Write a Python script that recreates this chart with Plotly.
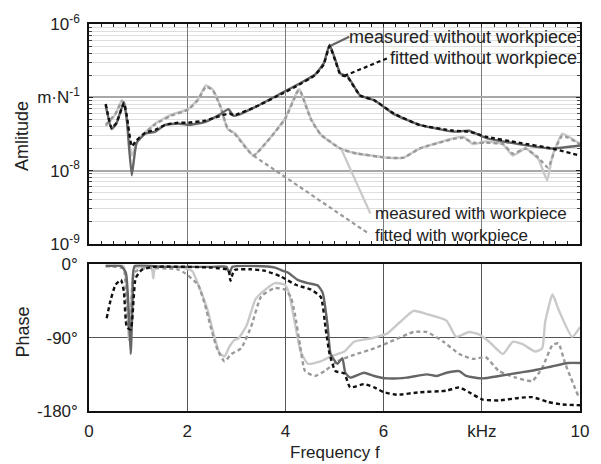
import numpy as np
import plotly.graph_objects as go

# ---------------- data ----------------
# Amplitude, measured without workpiece
f_amp_mwo = [0.34, 0.46, 0.56, 0.71, 0.77, 0.87, 0.97, 1.15, 1.35, 1.55, 1.81, 2.02, 2.36, 2.68,
             2.84, 2.94, 3.04, 3.39, 3.91, 4.25, 4.60, 4.78, 4.90, 5.02, 5.12, 5.26, 5.52, 5.81,
             6.21, 6.73, 7.42, 7.74, 8.08, 8.75, 9.44, 10.0]
amp_mwo = [7.8e-8, 3.7e-8, 4.4e-8, 8.6e-8, 4.9e-8, 8.6e-9, 2.4e-8, 3.2e-8, 3.4e-8, 4.2e-8, 4.4e-8,
           4.2e-8, 4.6e-8, 5.9e-8, 6.9e-8, 5.6e-8, 5.75e-8, 7.4e-8, 1.13e-7, 1.49e-7, 2.03e-7,
           2.9e-7, 5.2e-7, 3.2e-7, 2.1e-7, 1.96e-7, 1.06e-7, 9.1e-8, 5.9e-8, 4.2e-8, 3.4e-8,
           3.5e-8, 2.8e-8, 2.3e-8, 2.0e-8, 2.2e-8]

# Amplitude, fitted without workpiece
f_amp_fwo = [0.34, 0.46, 0.56, 0.71, 0.77, 0.87, 0.97, 1.15, 1.35, 1.55, 1.81, 2.02, 2.36, 2.68,
             2.86, 2.96, 3.39, 3.91, 4.25, 4.60, 4.78, 4.90, 5.02, 5.12, 5.26, 5.52, 5.81, 6.21,
             6.73, 7.42, 7.74, 8.08, 8.75, 9.44, 10.0]
amp_fwo = [8.1e-8, 3.8e-8, 4.5e-8, 8.3e-8, 5.5e-8, 2.15e-8, 2.6e-8, 3.3e-8, 3.6e-8, 4.2e-8, 4.5e-8,
           4.5e-8, 4.8e-8, 5.6e-8, 6.0e-8, 5.7e-8, 7.4e-8, 1.1e-7, 1.45e-7, 2.0e-7, 2.8e-7,
           5.0e-7, 3.1e-7, 2.03e-7, 1.9e-7, 1.06e-7, 9.1e-8, 6.0e-8, 4.2e-8, 3.5e-8, 3.4e-8,
           2.9e-8, 2.4e-8, 2.0e-8, 1.6e-8]

# Amplitude, measured with workpiece
f_amp_mw = [0.34, 0.54, 0.67, 0.73, 0.87, 1.01, 1.35, 1.67, 2.02, 2.22, 2.38, 2.52, 2.68, 2.82,
            2.98, 3.35, 3.65, 3.99, 4.25, 4.29, 4.52, 4.72, 5.12, 5.40, 6.07, 6.41, 6.73, 7.42,
            7.62, 7.82, 8.08, 8.43, 8.63, 8.89, 9.15, 9.33, 9.44, 9.64, 10.0]
amp_mw = [4.0e-8, 5.9e-8, 9.1e-8, 8.1e-8, 1.6e-8, 2.7e-8, 4.4e-8, 5.75e-8, 6.9e-8, 9.4e-8, 1.45e-7,
          1.28e-7, 7.4e-8, 3.7e-8, 3.2e-8, 1.6e-8, 2.6e-8, 5.1e-8, 1.24e-7, 1.28e-7, 5.1e-8,
          3.1e-8, 2.0e-8, 1.74e-8, 1.5e-8, 1.5e-8, 2.0e-8, 2.75e-8, 2.9e-8, 2.3e-8, 2.5e-8,
          2.3e-8, 1.6e-8, 2.0e-8, 1.45e-8, 7.4e-9, 1.6e-8, 3.2e-8, 2.3e-8]

# Amplitude, fitted with workpiece
f_amp_fw = [0.34, 0.54, 0.67, 0.73, 0.87, 1.01, 1.35, 1.67, 2.02, 2.22, 2.38, 2.52, 2.68, 2.82,
            2.98, 3.35, 3.65, 3.99, 4.25, 4.29, 4.52, 4.72, 5.12, 5.40, 6.07, 6.41, 6.73, 7.42,
            7.62, 7.82, 8.08, 8.43, 8.63, 8.89, 9.15, 9.35, 9.50, 9.64, 10.0]
amp_fw = [4.2e-8, 6.0e-8, 8.8e-8, 8.0e-8, 2.15e-8, 2.7e-8, 4.3e-8, 5.6e-8, 6.8e-8, 9.2e-8, 1.4e-7,
          1.25e-7, 7.4e-8, 3.8e-8, 3.1e-8, 1.6e-8, 2.6e-8, 5.0e-8, 1.2e-7, 1.25e-7, 5.0e-8,
          3.1e-8, 2.0e-8, 1.74e-8, 1.5e-8, 1.5e-8, 2.0e-8, 2.7e-8, 2.8e-8, 2.4e-8, 2.4e-8,
          2.3e-8, 1.7e-8, 2.0e-8, 1.5e-8, 1.1e-8, 2.0e-8, 3.0e-8, 2.3e-8]

# Phase (degrees), measured without workpiece
f_ph_mwo = [0.34, 0.65, 0.75, 0.81, 0.85, 0.89, 0.93, 1.5, 2.5, 2.8, 2.86, 2.92, 3.4, 3.79, 3.95,
            4.05, 4.25, 4.46, 4.66, 4.76, 4.86, 4.92, 5.06, 5.16, 5.22, 5.32, 5.60, 5.81, 6.07,
            6.47, 6.88, 7.08, 7.28, 7.54, 7.68, 8.02, 8.35, 8.75, 9.15, 9.44, 9.76, 10.0]
ph_mwo = [-2, -2, -10, -60, -110, -40, -2, -3, -3, -3, -11, -3, -2, -4, -8, -10, -19, -23, -26,
          -35, -75, -110, -122, -115, -133, -139, -133, -137, -140, -139, -135, -137, -133, -131,
          -137, -140, -137, -133, -129, -125, -121, -121]

# Phase, fitted without workpiece
f_ph_fwo = [0.36, 0.44, 0.54, 0.65, 0.71, 0.77, 0.85, 0.95, 1.07, 1.3, 2.5, 2.84, 2.88, 2.96, 3.3,
            3.59, 3.91, 4.21, 4.31, 4.52, 4.72, 4.82, 4.90, 5.02, 5.20, 5.32, 5.60, 5.81, 6.01,
            6.27, 6.73, 7.28, 7.54, 7.74, 8.02, 8.35, 8.75, 9.03, 9.35, 9.64, 10.0]
ph_fwo = [-66, -44, -25, -19, -33, -77, -80, -17, -7, -3, -4, -7, -20, -7, -6, -8, -15, -25, -27,
          -31, -40, -79, -110, -131, -134, -151, -147, -151, -157, -160, -157, -155, -151, -157,
          -166, -167, -164, -163, -169, -172, -173]

# Phase, measured with workpiece
f_ph_mw = [0.34, 0.70, 0.77, 0.81, 0.87, 0.92, 1.2, 1.28, 1.31, 1.35, 1.9, 2.1, 2.16, 2.28, 2.42,
           2.52, 2.66, 2.76, 2.86, 2.96, 3.04, 3.21, 3.39, 3.59, 3.79, 3.99, 4.08, 4.19, 4.31,
           4.46, 4.72, 4.92, 5.20, 5.40, 5.73, 6.07, 6.33, 6.61, 6.88, 7.28, 7.48, 7.74, 7.94,
           8.15, 8.43, 8.63, 8.83, 9.09, 9.23, 9.29, 9.44, 9.56, 9.84, 10.0]
ph_mw = [0, -2, -30, -93, -40, -5, -3, -5, -17, -4, -4, -8, -15, -33, -57, -81, -109, -113, -101,
         -93, -91, -75, -43, -31, -23, -25, -37, -71, -107, -122, -119, -113, -107, -95, -91, -85,
         -71, -57, -61, -69, -89, -83, -86, -95, -110, -95, -98, -107, -103, -71, -37, -55, -89,
         -77]

# Phase, fitted with workpiece
f_ph_fw = [0.34, 0.70, 0.75, 0.79, 0.85, 0.92, 1.1, 1.8, 1.96, 2.22, 2.36, 2.48, 2.62, 2.76, 2.90,
           3.10, 3.31, 3.51, 3.79, 3.99, 4.11, 4.19, 4.30, 4.40, 4.60, 4.80, 5.06, 5.40, 5.81,
           6.21, 6.61, 6.88, 7.22, 7.54, 7.82, 8.08, 8.35, 8.69, 9.03, 9.23, 9.44, 9.56, 9.70,
           9.96]
ph_fw = [-2, -5, -30, -77, -60, -10, -5, -6, -11, -25, -49, -77, -105, -119, -110, -103, -75, -39,
         -29, -31, -40, -60, -100, -131, -137, -131, -119, -111, -103, -93, -83, -83, -95, -110,
         -116, -114, -131, -139, -143, -127, -99, -97, -122, -161]

amp_ticks = [1e-9, 1e-8, 1e-7, 1e-6]
amp_ticktext = ["10<sup>-9</sup>", "10<sup>-8</sup>", "m·N<sup>-1</sup>", "10<sup>-6</sup>"]
freq_ticks = [0, 2, 4, 6, 8, 10]
freq_ticktext = ["0", "2", "4", "6", "kHz", "10"]
phase_ticks = [0, -90, -180]
phase_ticktext = ["0°", "-90°", "-180°"]

labels_without = ["measured without workpiece", "fitted without workpiece"]
labels_with = ["measured with workpiece", "fitted with workpiece"]

# ---------------- styles ----------------
C_MWO = "#666666"
C_FWO = "#111111"
C_MW = "#c9c9c9"
C_FW = "#9a9a9a"
DASH = "4px,3px"
LW = 2.4
FONT = "Arial, Liberation Sans, sans-serif"
AMP_RANGE = [-9, -6]

fig = go.Figure()

series = [
    (f_amp_mw, amp_mw, f_ph_mw, ph_mw, C_MW, "solid"),
    (f_amp_fw, amp_fw, f_ph_fw, ph_fw, C_FW, DASH),
    (f_amp_mwo, amp_mwo, f_ph_mwo, ph_mwo, C_MWO, "solid"),
    (f_amp_fwo, amp_fwo, f_ph_fwo, ph_fwo, C_FWO, DASH),
]
for fa, a, fp, p, c, d in series:
    fig.add_trace(go.Scatter(x=fa, y=a, mode="lines", xaxis="x", yaxis="y",
                             line=dict(color=c, width=LW, dash=d, shape="spline", smoothing=0.4),
                             showlegend=False, hoverinfo="skip"))
    fig.add_trace(go.Scatter(x=fp, y=p, mode="lines", xaxis="x2", yaxis="y2",
                             line=dict(color=c, width=LW, dash=d, shape="spline", smoothing=0.5),
                             showlegend=False, hoverinfo="skip"))

# minor log positions
minor_vals = [k * 10.0 ** e for e in range(-9, -6) for k in range(2, 10)]

fig.update_layout(
    width=601, height=464,
    margin=dict(l=89, r=16, t=15, b=53),
    paper_bgcolor="white", plot_bgcolor="white",
    font=dict(family=FONT, size=17, color="#222222"),
    xaxis=dict(domain=[0, 1], anchor="y", range=[0, 10], showticklabels=False,
               tickvals=freq_ticks, ticks="inside", ticklen=3, tickcolor="#222",
               showgrid=True, gridcolor="#7a7a7a", gridwidth=1,
               showline=True, linecolor="#111", linewidth=1.5, mirror="ticks",
               minor=dict(dtick=0.25, ticks="inside", ticklen=3, tickcolor="#222", showgrid=False),
               zeroline=False),
    yaxis=dict(domain=[0.4318, 1], anchor="x", type="log", range=AMP_RANGE,
               tickvals=amp_ticks, ticktext=amp_ticktext, ticks="inside", ticklen=4,
               tickcolor="#222", showgrid=True, gridcolor="#a8a8a8", gridwidth=2,
               showline=True, linecolor="#111", linewidth=1.5, mirror="ticks",
               minor=dict(tickvals=minor_vals, ticks="inside", ticklen=3, tickcolor="#444",
                          showgrid=True, gridcolor="#dedede", gridwidth=1),
               ticklabelstandoff=4, zeroline=False),
    xaxis2=dict(domain=[0, 1], anchor="y2", range=[0, 10],
                tickvals=freq_ticks, ticktext=freq_ticktext, ticks="",
                showgrid=True, gridcolor="#555555", gridwidth=1,
                showline=True, linecolor="#111", linewidth=1.5, mirror=True,
                ticklabelstandoff=4, zeroline=False),
    yaxis2=dict(domain=[0, 0.3788], anchor="x2", range=[-180, 0],
                tickvals=phase_ticks, ticktext=phase_ticktext, ticks="",
                showgrid=True, gridcolor="#555555", gridwidth=1,
                showline=True, linecolor="#111", linewidth=1.5, mirror=True,
                ticklabelstandoff=6, zeroline=False),
)

# white boxes behind the label texts (cover gridlines only)
fig.add_shape(type="rect", xref="paper", yref="paper", x0=0.528, x1=1.0, y0=0.886, y1=1.0,
              fillcolor="white", line=dict(width=0), layer="between")
fig.add_shape(type="rect", xref="paper", yref="paper", x0=0.571, x1=1.0, y0=0.4318, y1=0.538,
              fillcolor="white", line=dict(width=0), layer="between")


def amp_frac(a):
    """position of an amplitude value as a fraction of the log y-axis domain"""
    return (np.log10(a) - AMP_RANGE[0]) / (AMP_RANGE[1] - AMP_RANGE[0])


# leader lines from curves to labels: (f, amplitude) endpoints
leaders = [
    ((4.93, 5.1e-7), (5.30, 6.7e-7), C_MWO, "solid"),
    ((5.20, 1.96e-7), (6.07, 3.4e-7), C_FWO, DASH),
    ((5.14, 1.96e-8), (5.73, 2.6e-9), C_MW, "solid"),
    ((3.35, 1.6e-8), (5.71, 1.36e-9), C_FW, DASH),
]
for (fa, aa), (fb, ab), c, d in leaders:
    fig.add_shape(type="line", xref="x", yref="y domain", x0=fa, x1=fb,
                  y0=float(amp_frac(aa)), y1=float(amp_frac(ab)),
                  line=dict(color=c, width=2.2, dash=d), layer="above")

# label texts: (text, x paper, y paper, anchor, font size)
label_pos = [(labels_without[0], 0.996, 0.9672, "right", 18),
             (labels_without[1], 0.996, 0.9116, "right", 18),
             (labels_with[0], 0.581, 0.5101, "left", 17),
             (labels_with[1], 0.581, 0.4545, "left", 17)]
for txt, x, y, anc, fs in label_pos:
    fig.add_annotation(text=txt, xref="paper", yref="paper", x=x, y=y, xanchor=anc,
                       yanchor="middle", showarrow=False, borderpad=0,
                       font=dict(size=fs, color="#222"))

# axis titles
fig.add_annotation(text="Amlitude", xref="paper", yref="paper", x=-0.135, y=0.7096,
                   textangle=-90, showarrow=False, xanchor="center", yanchor="middle",
                   font=dict(size=18, color="#222"))
fig.add_annotation(text="Phase", xref="paper", yref="paper", x=-0.135, y=0.2045,
                   textangle=-90, showarrow=False, xanchor="center", yanchor="middle",
                   font=dict(size=18, color="#222"))
fig.add_annotation(text="Frequency f", xref="paper", yref="paper", x=0.5, y=-0.106,
                   showarrow=False, xanchor="center", yanchor="middle",
                   font=dict(size=17, color="#222"))

fig.write_html("out.html")
